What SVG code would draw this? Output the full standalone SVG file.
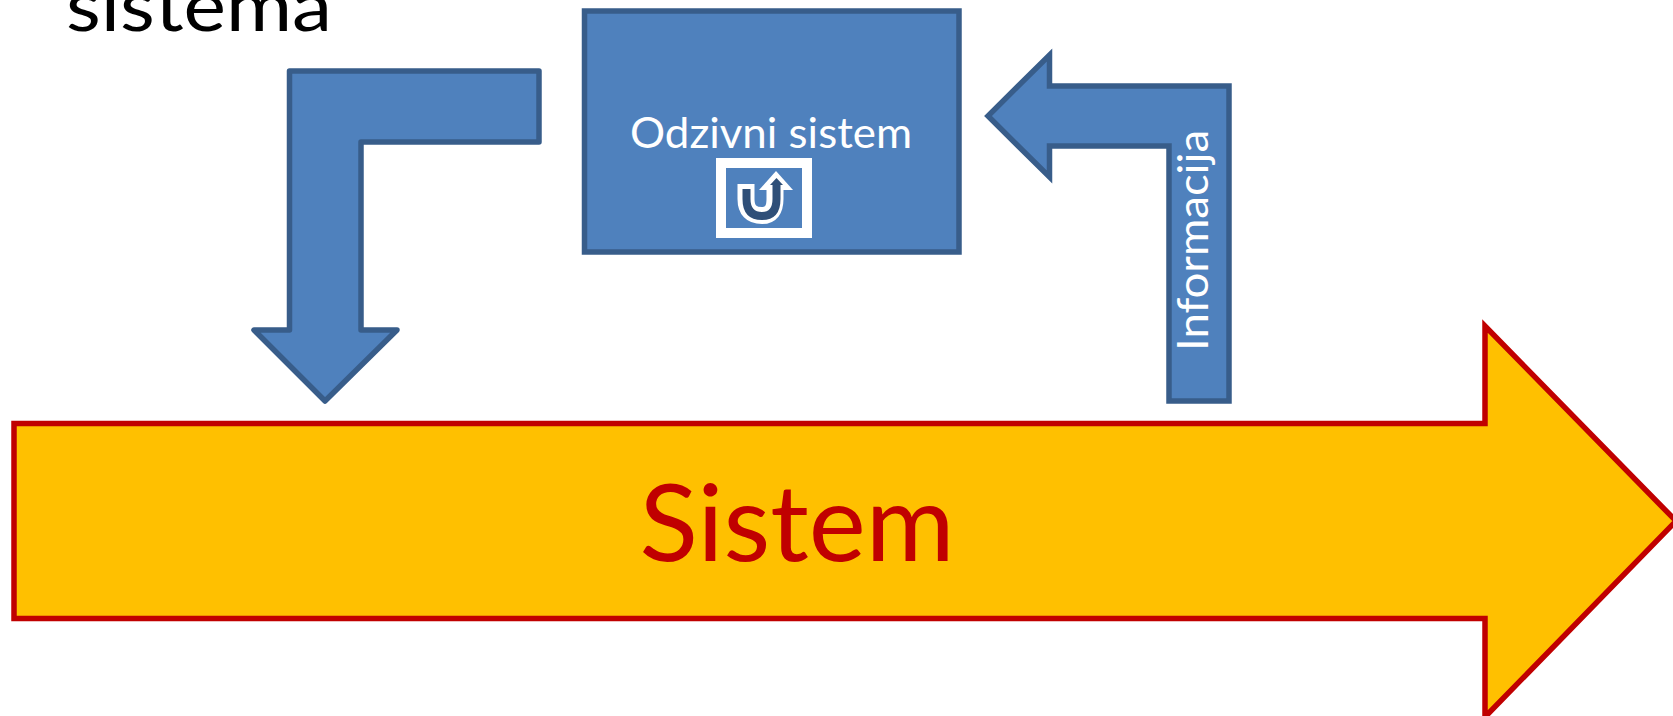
<svg xmlns="http://www.w3.org/2000/svg" width="1673" height="716" viewBox="0 0 1673 716">
<style>
.b{fill:#4f81bd;stroke:#385d8a;stroke-width:5.500;stroke-linejoin:round}
.t{font-family:Lato,"Open Sans",sans-serif}
.w{fill:#fff}
</style>
<rect width="1673" height="716" fill="#fff"/>
<text id="title" class="t" x="66" y="31" font-size="72" fill="#000" textLength="266" lengthAdjust="spacingAndGlyphs">sistema</text>
<g id="system">
<path d="M14 423.500H1485V326L1676 521L1485 717V618.500H14Z" fill="#ffc000" stroke="#c00000" stroke-width="5.500"/>
<text class="t" x="797" y="561" font-size="106" fill="#c00000" text-anchor="middle" textLength="315" lengthAdjust="spacingAndGlyphs">Sistem</text>
</g>
<g id="responsive">
<rect x="584.500" y="11" width="374.500" height="241" fill="#4f81bd" stroke="#385d8a" stroke-width="5.500"/>
<text class="t w" x="771" y="148" font-size="43" text-anchor="middle" textLength="282" lengthAdjust="spacingAndGlyphs">Odzivni sistem</text>
<g id="icon">
<rect x="721" y="163" width="86" height="70" fill="#4f81bd" stroke="#fff" stroke-width="10"/>
<path d="M746 184V199Q746 215.500 762 215.500Q775 215.500 775 199V186" fill="none" stroke="#fff" stroke-width="17"/>
<path d="M759 190H793L776 171Z" fill="#fff"/>
<path d="M746.500 189V199Q746.500 216 762 216Q776.500 216 776.500 199V184" fill="none" stroke="#2f4f78" stroke-width="8"/>
<path d="M770 185H783L776.500 178Z" fill="#2f4f78"/>
</g>
</g>
<g id="connectors">
<path id="action" class="b" d="M289.500 71H539V142H361V330H397L325 401L254 330H289.500Z"/>
<g id="info">
<path class="b" style="stroke-linejoin:miter" d="M1229 86V401H1169V146H1049.500V177L988 116L1049.500 55V86Z"/>
<text class="t w" transform="translate(1208 351) rotate(-90)" font-size="43" textLength="221" lengthAdjust="spacingAndGlyphs">Informacija</text>
</g>
</g>
</svg>
